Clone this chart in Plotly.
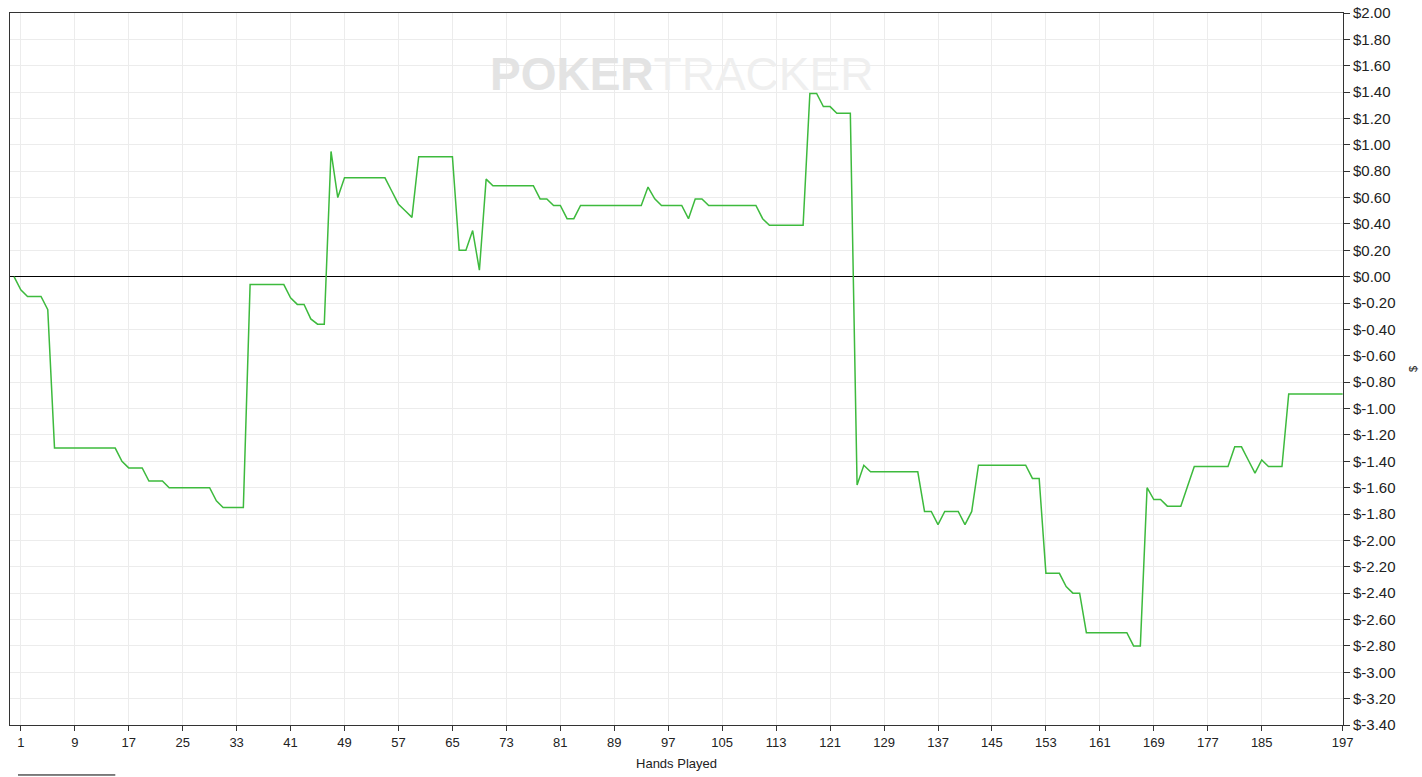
import plotly.graph_objects as go

hands = list(range(0, 198))
winnings = [
    0.00, -0.10, -0.15, -0.15, -0.15, -0.25,
    -1.30, -1.30, -1.30, -1.30, -1.30, -1.30, -1.30, -1.30, -1.30, -1.30,
    -1.40, -1.45, -1.45, -1.45, -1.55, -1.55, -1.55,
    -1.60, -1.60, -1.60, -1.60, -1.60, -1.60, -1.60,
    -1.70, -1.75, -1.75, -1.75, -1.75,
    -0.06, -0.06, -0.06, -0.06, -0.06, -0.06,
    -0.16, -0.21, -0.21, -0.32, -0.36, -0.36,
    0.95, 0.60,
    0.75, 0.75, 0.75, 0.75, 0.75, 0.75, 0.75,
    0.65, 0.55, 0.50, 0.45,
    0.91, 0.91, 0.91, 0.91, 0.91, 0.91,
    0.20, 0.20, 0.35, 0.05, 0.74,
    0.69, 0.69, 0.69, 0.69, 0.69, 0.69, 0.69,
    0.59, 0.59, 0.54, 0.54, 0.44, 0.44,
    0.54, 0.54, 0.54, 0.54, 0.54, 0.54, 0.54, 0.54, 0.54, 0.54,
    0.68, 0.59,
    0.54, 0.54, 0.54, 0.54,
    0.44, 0.59, 0.59,
    0.54, 0.54, 0.54, 0.54, 0.54, 0.54, 0.54, 0.54,
    0.44,
    0.39, 0.39, 0.39, 0.39, 0.39, 0.39,
    1.39, 1.39, 1.29, 1.29, 1.24, 1.24, 1.24,
    -1.58, -1.43,
    -1.48, -1.48, -1.48, -1.48, -1.48, -1.48, -1.48, -1.48,
    -1.78, -1.78, -1.88, -1.78, -1.78, -1.78, -1.88, -1.78,
    -1.43, -1.43, -1.43, -1.43, -1.43, -1.43, -1.43, -1.43,
    -1.53, -1.53,
    -2.25, -2.25, -2.25, -2.35, -2.40, -2.40,
    -2.70, -2.70, -2.70, -2.70, -2.70, -2.70, -2.70,
    -2.80, -2.80,
    -1.60, -1.69, -1.69, -1.74, -1.74, -1.74, -1.59,
    -1.44, -1.44, -1.44, -1.44, -1.44, -1.44,
    -1.29, -1.29, -1.39, -1.49, -1.39,
    -1.44, -1.44, -1.44,
    -0.89, -0.89, -0.89, -0.89, -0.89, -0.89, -0.89, -0.89, -0.89,
]

x_tick_vals = [1, 9, 17, 25, 33, 41, 49, 57, 65, 73, 81, 89, 97, 105, 113,
               121, 129, 137, 145, 153, 161, 169, 177, 185, 197]
y_tick_vals = [round(2.0 - 0.2 * i, 2) for i in range(28)]
y_tick_text = ["$%.2f" % v for v in y_tick_vals]

fig = go.Figure()
fig.add_trace(go.Scatter(
    x=hands, y=winnings, mode="lines",
    line=dict(color="#3dba3d", width=1.5),
    showlegend=False, hoverinfo="x+y",
))

fig.update_layout(
    width=1422, height=777,
    margin=dict(l=10, r=79, t=13, b=52),
    paper_bgcolor="white", plot_bgcolor="white",
    font=dict(family="Liberation Sans, Arial, sans-serif", size=13, color="#222"),
    showlegend=False,
)

fig.update_xaxes(
    range=[-0.6, 197.05], automargin=False,
    tickmode="array", tickvals=x_tick_vals,
    ticks="outside", ticklen=5, tickcolor="#333",
    showline=True, linecolor="#333", linewidth=1, mirror=True,
    showgrid=True, gridcolor="#ececec", gridwidth=1,
    zeroline=False,
    tickfont=dict(family="Liberation Sans Narrow, Arial Narrow, Liberation Sans, sans-serif", size=13, color="#222"),
    title=dict(text="Hands Played", font=dict(size=13, color="#222"), standoff=10),
)

fig.update_yaxes(
    side="right", automargin=False,
    range=[-3.4, 2.0],
    tickmode="array", tickvals=y_tick_vals, ticktext=y_tick_text,
    ticks="outside", ticklen=6, tickcolor="#333",
    showline=True, linecolor="#333", linewidth=1, mirror=True,
    showgrid=True, gridcolor="#ececec", gridwidth=1,
    zeroline=True, zerolinecolor="#000", zerolinewidth=1.3,
    tickfont=dict(size=15, color="#222"),
    title=dict(text="$", font=dict(size=11, color="#222"), standoff=14),
)

# watermark
fig.add_annotation(
    xref="paper", yref="paper", x=0.504, y=0.914,
    text="<span style='color:#e3e3e3'><b>POKER</b></span><span style='color:#efefef'>TRACKER</span>",
    showarrow=False,
    font=dict(family="Liberation Sans, Arial, sans-serif", size=46, color="#e9e9e9"),
    xanchor="center", yanchor="middle",
)

# small legend stub at bottom-left
fig.add_shape(type="line", xref="paper", yref="paper",
              x0=0.006, x1=0.079, y0=-0.0702, y1=-0.0702,
              line=dict(color="#000", width=1))

fig.write_html("out.html", config={"displayModeBar": False},
               post_script="document.body.style.margin='0';document.body.style.overflow='hidden';")
